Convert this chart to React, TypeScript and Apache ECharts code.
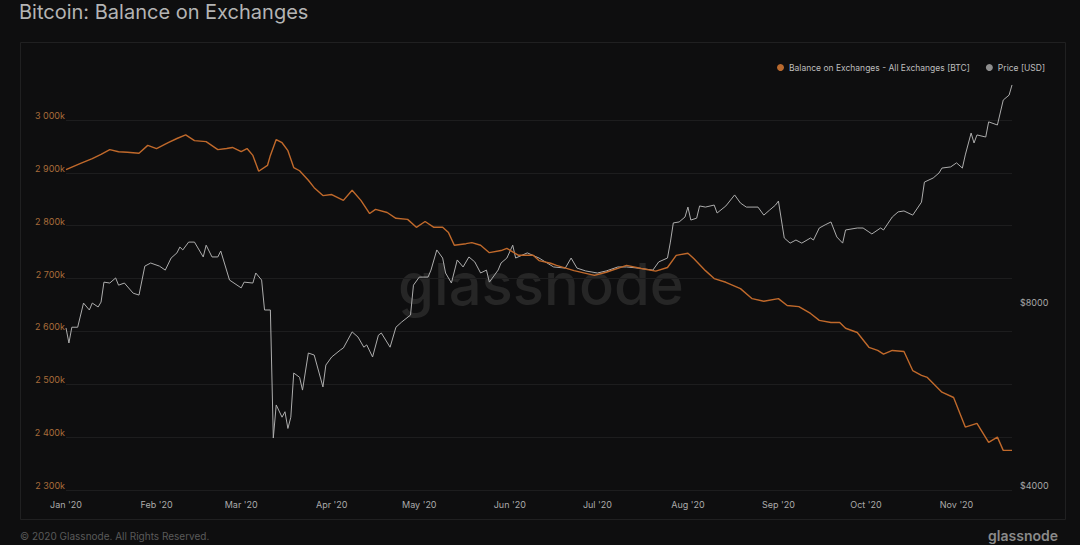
import React, { useEffect, useRef } from "react";
import * as echarts from "echarts";

const BG = "#0e0e0f";

// Balance on exchanges, thousands of BTC
const balanceDates = [
  "2020-01-01","2020-01-06","2020-01-10","2020-01-13","2020-01-16","2020-01-19","2020-01-22","2020-01-26","2020-01-29",
  "2020-02-01","2020-02-05","2020-02-08","2020-02-11","2020-02-14","2020-02-18","2020-02-22","2020-02-25","2020-02-27",
  "2020-03-01","2020-03-03","2020-03-05","2020-03-07","2020-03-10","2020-03-11","2020-03-13","2020-03-15","2020-03-17",
  "2020-03-19","2020-03-21","2020-03-24","2020-03-26","2020-03-29",
  "2020-04-01","2020-04-05","2020-04-08","2020-04-11","2020-04-14","2020-04-16","2020-04-20","2020-04-23","2020-04-27","2020-04-30",
  "2020-05-03","2020-05-06","2020-05-09","2020-05-11","2020-05-13","2020-05-17","2020-05-19","2020-05-22","2020-05-25","2020-05-29","2020-05-31",
  "2020-06-04","2020-06-09","2020-06-11","2020-06-15","2020-06-17","2020-06-23","2020-06-30",
  "2020-07-04","2020-07-11","2020-07-16","2020-07-21","2020-07-25","2020-07-28",
  "2020-08-01","2020-08-03","2020-08-07","2020-08-10","2020-08-14","2020-08-19","2020-08-23","2020-08-27",
  "2020-09-01","2020-09-04","2020-09-08","2020-09-12","2020-09-15","2020-09-19","2020-09-22","2020-09-24","2020-09-28",
  "2020-10-02","2020-10-05","2020-10-07","2020-10-10","2020-10-14","2020-10-17","2020-10-20","2020-10-22","2020-10-27","2020-10-31",
  "2020-11-04","2020-11-08","2020-11-12","2020-11-15","2020-11-17","2020-11-20"
];
const balanceK = [
  2906,2918,2927,2935,2944,2940,2939,2937,2952,
  2946,2957,2965,2972,2961,2959,2944,2946,2948,
  2940,2946,2933,2903,2914,2933,2963,2957,2942,
  2910,2904,2886,2872,2857,
  2859,2848,2867,2848,2823,2831,2825,2814,2812,2797,
  2808,2797,2797,2787,2763,2766,2768,2763,2749,2753,2757,
  2744,2744,2734,2729,2725,2715,2706,
  2712,2725,2719,2714,2721,2744,
  2748,2738,2715,2700,2693,2681,2662,2657,
  2662,2649,2647,2634,2621,2617,2617,2606,2598,
  2570,2564,2557,2564,2562,2526,2517,2513,2485,2475,
  2419,2426,2390,2400,2375,2375
];

// BTC price, USD
const priceDates = [
  "2020-01-01","2020-01-02","2020-01-03","2020-01-05","2020-01-07","2020-01-09","2020-01-10","2020-01-12","2020-01-13","2020-01-14",
  "2020-01-16","2020-01-18","2020-01-19","2020-01-21","2020-01-24","2020-01-26","2020-01-28","2020-01-30",
  "2020-02-02","2020-02-04","2020-02-06","2020-02-08","2020-02-09","2020-02-10","2020-02-12","2020-02-14","2020-02-15","2020-02-17",
  "2020-02-18","2020-02-20","2020-02-22","2020-02-23","2020-02-26",
  "2020-03-01","2020-03-02","2020-03-05","2020-03-06","2020-03-08","2020-03-09","2020-03-11","2020-03-12","2020-03-13","2020-03-15",
  "2020-03-16","2020-03-17","2020-03-18","2020-03-19","2020-03-21","2020-03-22","2020-03-24","2020-03-26","2020-03-29","2020-03-30",
  "2020-04-01","2020-04-04","2020-04-05","2020-04-08","2020-04-10","2020-04-12","2020-04-13","2020-04-15","2020-04-17","2020-04-18",
  "2020-04-21","2020-04-23","2020-04-25","2020-04-28","2020-04-29",
  "2020-05-01","2020-05-04","2020-05-05","2020-05-07","2020-05-09","2020-05-10","2020-05-12","2020-05-14","2020-05-16","2020-05-18",
  "2020-05-20","2020-05-22","2020-05-24","2020-05-25","2020-05-28","2020-05-29","2020-05-31",
  "2020-06-02","2020-06-03","2020-06-07","2020-06-11","2020-06-16","2020-06-20","2020-06-22","2020-06-24","2020-06-27",
  "2020-07-01","2020-07-04","2020-07-08","2020-07-11","2020-07-15","2020-07-20","2020-07-22","2020-07-25","2020-07-26","2020-07-27",
  "2020-07-29","2020-07-31",
  "2020-08-01","2020-08-02","2020-08-04","2020-08-05","2020-08-07","2020-08-10","2020-08-11","2020-08-14","2020-08-17","2020-08-19",
  "2020-08-21","2020-08-25","2020-08-27","2020-08-29","2020-08-31",
  "2020-09-01","2020-09-03","2020-09-05","2020-09-07","2020-09-09","2020-09-12","2020-09-13","2020-09-15","2020-09-17","2020-09-19",
  "2020-09-21","2020-09-23","2020-09-24","2020-09-28","2020-09-30",
  "2020-10-02","2020-10-03","2020-10-06","2020-10-07","2020-10-10","2020-10-12","2020-10-14","2020-10-17","2020-10-20","2020-10-21",
  "2020-10-24","2020-10-26","2020-10-27","2020-10-30",
  "2020-11-01","2020-11-03","2020-11-04","2020-11-06","2020-11-07","2020-11-08","2020-11-11","2020-11-12","2020-11-15","2020-11-17",
  "2020-11-19","2020-11-20"
];
const priceUsd = [
  7390,6980,7410,7410,8120,7910,8120,8000,8150,8790,
  8760,8930,8690,8760,8430,8370,9340,9450,
  9340,9200,9630,9820,10040,9930,10230,10230,10040,9670,
  10110,9670,9670,9890,8860,
  8600,8790,8760,9100,8860,7910,7910,4870,5520,5270,
  5380,5050,5270,6230,6130,5840,6720,6670,5910,6420,
  6620,6800,6850,7280,7140,6870,6930,6620,7190,7250,
  6870,7410,7560,7760,8690,
  8960,8960,9200,9930,9630,9100,8760,9560,9310,9670,
  9490,9100,9200,8790,9200,9450,9630,
  10110,9630,9820,9630,9310,9270,9630,9270,9170,
  9100,9170,9310,9310,9270,9200,9490,9630,10230,11000,
  11040,11250,
  11680,11120,11200,11730,11680,11770,11420,11730,12230,11860,
  11680,11680,11330,11550,11770,
  11950,10390,10190,10310,10190,10390,10310,10790,10920,11040,
  10430,10190,10710,10790,10790,
  10630,10550,10790,10710,11250,11470,11510,11330,11900,12840,
  13040,13290,13540,13600,
  13810,13540,14230,15460,14890,15350,15230,16130,15940,17520,
  17850,18550
];

const monthTicks = [
  "2020-01-01","2020-02-01","2020-03-01","2020-04-01","2020-05-01","2020-06-01",
  "2020-07-01","2020-08-01","2020-09-01","2020-10-01","2020-11-01"
];
const monthLabels = [
  "Jan '20","Feb '20","Mar '20","Apr '20","May '20","Jun '20",
  "Jul '20","Aug '20","Sep '20","Oct '20","Nov '20"
];
const balanceTicksK = [2300, 2400, 2500, 2600, 2700, 2800, 2900, 3000];
const priceTicks = [4000, 8000];

const FONT = "Inter, 'Noto Sans', sans-serif";
const DAY = 86400000;

export default function App() {
  const ref = useRef<HTMLDivElement>(null);

  useEffect(() => {
    document.body.style.margin = "0";
    document.body.style.background = BG;
    const chart = echarts.init(ref.current as HTMLDivElement, null, { renderer: "svg" });
    const ts = (s: string) => echarts.number.parseDate(s).getTime();
    const monthTs = monthTicks.map(ts);

    const balanceData = balanceDates.map((d, i) => [ts(d), balanceK[i]]);
    const priceData = priceDates.map((d, i) => [ts(d), priceUsd[i]]);

    const fmtK = (v: number) => {
      const s = String(Math.round(v));
      return s.replace(/\B(?=(\d{3})+(?!\d))/g, " ") + "k";
    };

    chart.setOption({
      animation: false,
      backgroundColor: BG,
      textStyle: { fontFamily: FONT },
      graphic: [
        {
          type: "rect",
          silent: true,
          shape: { x: 20.5, y: 42.5, width: 1045, height: 477 },
          style: { fill: "none", stroke: "#202021", lineWidth: 1 },
          z: -10,
        },
        {
          type: "text",
          silent: true,
          x: 19,
          y: 12,
          style: {
            text: "Bitcoin: Balance on Exchanges",
            fill: "#b4b4b4",
            font: `400 20px ${FONT}`,
            verticalAlign: "middle",
          },
        },
        {
          type: "text",
          silent: true,
          x: 541,
          y: 284,
          z: -5,
          style: {
            text: "glassnode",
            fill: "#262626",
            font: `500 58px ${FONT}`,
            align: "center",
            verticalAlign: "middle",
          },
        },
        {
          type: "text",
          silent: true,
          x: 20,
          y: 531,
          style: {
            text: "© 2020 Glassnode. All Rights Reserved.",
            fill: "#5a5a5a",
            font: `400 10px ${FONT}`,
            verticalAlign: "top",
          },
        },
        {
          type: "text",
          silent: true,
          x: 1058,
          y: 528,
          style: {
            text: "glassnode",
            fill: "#8a8a8a",
            font: `600 14px ${FONT}`,
            align: "right",
            verticalAlign: "top",
          },
        },
      ],
      legend: {
        top: 58,
        right: 30,
        itemGap: 16,
        itemWidth: 7,
        itemHeight: 7,
        icon: "circle",
        textStyle: { color: "#bdbdbd", fontSize: 8.5, fontFamily: FONT },
        data: [
          { name: "Balance on Exchanges - All Exchanges [BTC]", itemStyle: { color: "#b8692e" } },
          { name: "Price [USD]", itemStyle: { color: "#8e8e8e" } },
        ],
      },
      grid: { left: 66, right: 68, top: 83, bottom: 55 },
      xAxis: {
        type: "time",
        min: ts("2020-01-01"),
        max: ts("2020-11-20"),
        minInterval: 28 * DAY,
        maxInterval: 31 * DAY,
        splitNumber: 11,
        axisLine: { show: false },
        axisTick: { show: false },
        splitLine: { show: false },
        axisLabel: {
          color: "#ababab",
          fontSize: 9,
          fontFamily: FONT,
          margin: 10,
          hideOverlap: false,
          formatter: (v: number) => {
            const i = monthTs.indexOf(v);
            return i >= 0 ? monthLabels[i] : "";
          },
        },
      },
      yAxis: [
        {
          type: "value",
          position: "left",
          min: 2300,
          max: 3070,
          interval: 100,
          axisLine: { show: false },
          axisTick: { show: false, customValues: balanceTicksK },
          splitLine: { show: true, lineStyle: { color: "#1d1d1e", width: 1 } },
          axisLabel: {
            customValues: balanceTicksK,
            color: "#a86c3a",
            fontSize: 9,
            fontFamily: FONT,
            margin: 1,
            verticalAlign: "bottom",
            formatter: fmtK,
          },
        },
        {
          type: "log",
          logBase: 2,
          position: "right",
          min: 4000,
          max: 18688,
          axisLine: { show: false },
          axisTick: { show: false },
          splitLine: { show: false },
          axisLabel: {
            customValues: priceTicks,
            color: "#a8a8a8",
            fontSize: 9,
            fontFamily: FONT,
            margin: 8,
            verticalAlign: "bottom",
            formatter: (v: number) => "$" + Math.round(v),
          },
        },
      ],
      series: [
        {
          name: "Balance on Exchanges - All Exchanges [BTC]",
          type: "line",
          yAxisIndex: 0,
          data: balanceData,
          showSymbol: false,
          color: "#c0692b",
          lineStyle: { width: 1.4, color: "#c0692b" },
          z: 3,
        },
        {
          name: "Price [USD]",
          type: "line",
          yAxisIndex: 1,
          data: priceData,
          showSymbol: false,
          color: "#adadad",
          lineStyle: { width: 1, color: "#adadad" },
          z: 2,
        },
      ],
    });

    return () => chart.dispose();
  }, []);

  return <div ref={ref} style={{ width: 1080, height: 545, background: BG }} />;
}
